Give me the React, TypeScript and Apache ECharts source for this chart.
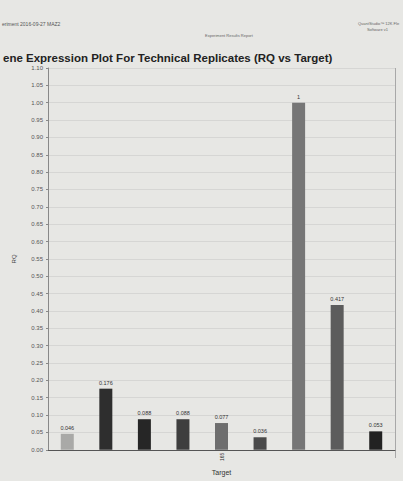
import React, { useEffect, useRef } from "react";
import * as echarts from "echarts";

const categories = ["", "", "", "", "165", "", "", "", ""];
const rqValues = [0.046, 0.176, 0.088, 0.088, 0.077, 0.036, 1, 0.417, 0.053];
const barLabels = ["0.046", "0.176", "0.088", "0.088", "0.077", "0.036", "1", "0.417", "0.053"];
const barColors = ["#a9a9a7", "#2e2e2e", "#262626", "#3e3e3e", "#6e6e6e", "#4a4a4a", "#767676", "#5c5c5c", "#222222"];

export default function App() {
  const ref = useRef<HTMLDivElement>(null);
  useEffect(() => {
    if (!ref.current) return;
    const chart = echarts.init(ref.current, null, { renderer: "svg" });
    chart.setOption({
      animation: false,
      backgroundColor: "#e7e7e4",
      textStyle: { fontFamily: "Liberation Sans, Arial, sans-serif" },
      graphic: [
        { type: "text", left: 2, top: 21, style: { text: "eriment 2016-09-27 MAZ2", fontSize: 5, fill: "#555" } },
        { type: "text", left: 205, top: 33, style: { text: "Experiment Results Report", fontSize: 4, fill: "#666" } },
        { type: "text", left: 358, top: 20, style: { text: "QuantStudio™ 12K Fle\n        Software v1", fontSize: 4, fill: "#666", lineHeight: 6 } },
        { type: "text", left: 3, top: 52, style: { text: "ene Expression Plot For Technical Replicates (RQ vs Target)", fontSize: 11.5, fontWeight: "bold", fill: "#222" } },
        { type: "rect", shape: { x: 395, y: 68, width: 0.8, height: 390 }, style: { fill: "#999" } },
      ],
      grid: { left: 48, right: 8, top: 68, bottom: 29, containLabel: false },
      xAxis: {
        type: "category",
        data: categories,
        name: "Target",
        nameLocation: "middle",
        nameGap: 17,
        nameTextStyle: { fontSize: 7, color: "#333" },
        axisLine: { lineStyle: { color: "#555", width: 1 } },
        axisTick: { show: false },
        axisLabel: { rotate: 90, fontSize: 5, color: "#333", interval: 0, margin: 3 },
      },
      yAxis: {
        type: "value",
        min: 0,
        max: 1.1,
        interval: 0.05,
        name: "RQ",
        nameLocation: "middle",
        nameGap: 31,
        nameRotate: 90,
        nameTextStyle: { fontSize: 6, color: "#444" },
        axisLine: { show: true, lineStyle: { color: "#888", width: 1 } },
        axisTick: { show: true, length: 2, lineStyle: { color: "#888" } },
        axisLabel: { fontSize: 6, color: "#555", margin: 5, formatter: (v: number) => v.toFixed(2) },
        splitLine: { lineStyle: { color: "#d2d2cf", width: 0.8 } },
      },
      series: [
        {
          type: "bar",
          barWidth: 13,
          data: rqValues.map((v, i) => ({ value: v, itemStyle: { color: barColors[i] } })),
          label: {
            show: true,
            position: "top",
            fontSize: 5.5,
            color: "#333",
            distance: 3,
            formatter: (p: any) => barLabels[p.dataIndex],
          },
        },
      ],
    });
    return () => chart.dispose();
  }, []);
  return <div ref={ref} style={{ position: "absolute", left: 0, top: 0, width: 403, height: 481 }} />;
}
